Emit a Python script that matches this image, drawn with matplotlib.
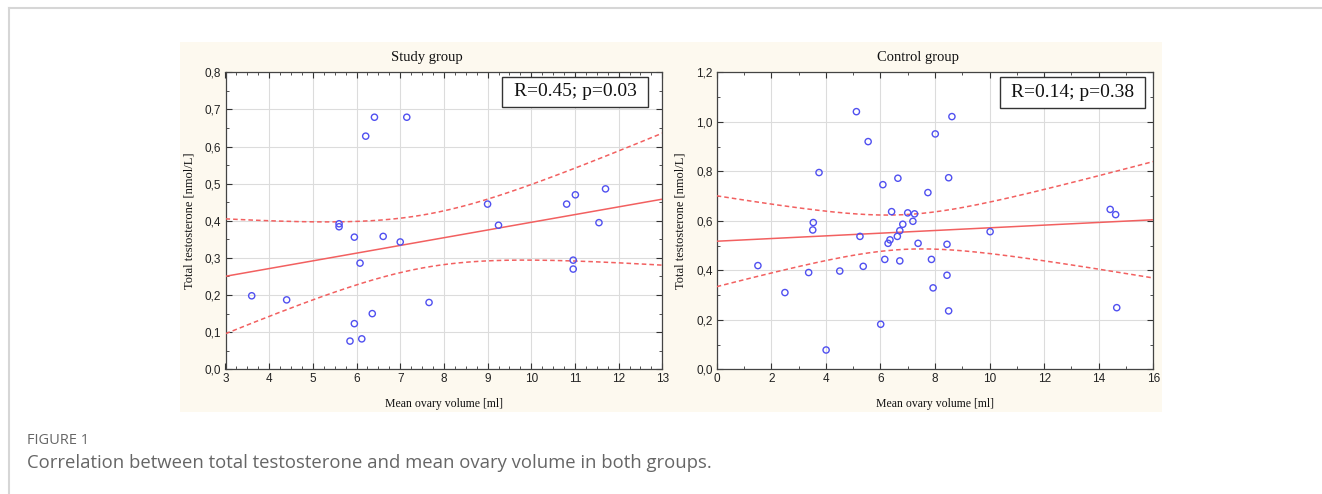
import numpy as np
import matplotlib
matplotlib.use("Agg")
import matplotlib.pyplot as plt
from matplotlib.ticker import MultipleLocator, FuncFormatter
from matplotlib.patches import Rectangle
from matplotlib.lines import Line2D

# ---- data ----
study_x = [3.60, 4.40, 5.60, 5.60, 5.95, 6.08, 6.21, 6.41, 7.15, 6.61, 7.00, 7.66,
           6.36, 5.95, 6.12, 5.85, 9.00, 9.25, 10.81, 11.01, 10.96, 10.96, 11.55, 11.70]
study_y = [0.198, 0.187, 0.392, 0.384, 0.356, 0.286, 0.628, 0.679, 0.679, 0.358, 0.343, 0.180,
           0.150, 0.123, 0.082, 0.076, 0.445, 0.388, 0.445, 0.470, 0.294, 0.270, 0.395, 0.486]

control_x = [1.51, 2.50, 3.37, 3.54, 3.52, 3.75, 4.01, 4.51, 5.12, 5.25, 5.55, 5.37, 6.01,
             6.09, 6.16, 6.28, 6.35, 6.41, 6.62, 6.64, 6.71, 6.71, 6.82, 7.00, 7.19, 7.25,
             7.38, 7.74, 7.87, 7.93, 8.01, 8.44, 8.44, 8.50, 8.50, 8.62, 10.02, 14.42, 14.62, 14.66]
control_y = [0.419, 0.310, 0.391, 0.593, 0.563, 0.795, 0.078, 0.397, 1.041, 0.537, 0.920, 0.416,
             0.182, 0.746, 0.444, 0.509, 0.523, 0.637, 0.537, 0.772, 0.560, 0.438, 0.586, 0.632,
             0.598, 0.628, 0.509, 0.714, 0.444, 0.329, 0.951, 0.505, 0.380, 0.774, 0.236, 1.021,
             0.556, 0.646, 0.625, 0.249]

titles = ["Study group", "Control group"]
stats = ["R=0.45; p=0.03", "R=0.14; p=0.38"]
xlabel = "Mean ovary volume [ml]"
ylabel = "Total testosterone [nmol/L]"
caption_head = "FIGURE 1"
caption = "Correlation between total testosterone and mean ovary volume in both groups."

W, H = 1322, 494
fig = plt.figure(figsize=(W / 100, H / 100), dpi=100)
fig.patch.set_facecolor("white")

def fx(px):
    return px / W

def fy(py):
    return 1 - py / H

# outer frame lines
fig.add_artist(Line2D([fx(9), fx(9)], [fy(8), 0], color="#d6d6d6", lw=1.5))
fig.add_artist(Line2D([fx(9), 1], [fy(8), fy(8)], color="#d6d6d6", lw=1.5))

# cream background of the image
fig.add_artist(Rectangle((fx(180), fy(412)), fx(1162 - 180), (412 - 42) / H,
                         transform=fig.transFigure, facecolor="#fdf9ef",
                         edgecolor="none", zorder=0))

serif = ["Liberation Serif", "DejaVu Serif"]
sans = ["Liberation Sans", "DejaVu Sans"]

panels = [
    dict(x=study_x, y=study_y, left=225.5, right=662.3, xlim=(3, 13), ylim=(0, 0.8),
         xmaj=1, xmin=0.25, ymaj=0.1, ymin=0.05, box=(502, 77, 648, 107), title_x=427),
    dict(x=control_x, y=control_y, left=716.7, right=1153.3, xlim=(0, 16), ylim=(0, 1.2),
         xmaj=2, xmin=1, ymaj=0.2, ymin=0.1, box=(1000, 77, 1145, 108), title_x=918),
]
top, bottom = 72.3, 369.3

for i, p in enumerate(panels):
    ax = fig.add_axes([fx(p["left"]), fy(bottom), fx(p["right"] - p["left"]), (bottom - top) / H])
    ax.set_facecolor("white")
    ax.set_xlim(*p["xlim"])
    ax.set_ylim(*p["ylim"])
    x = np.array(p["x"])
    y = np.array(p["y"])
    n = len(x)
    b, a = np.polyfit(x, y, 1)
    xs = np.linspace(p["xlim"][0], p["xlim"][1], 200)
    yhat = a + b * xs
    resid = y - (a + b * x)
    s = np.sqrt(np.sum(resid ** 2) / (n - 2))
    sxx = np.sum((x - x.mean()) ** 2)
    tval = 2.074 if n == 24 else 2.024
    se = s * np.sqrt(1 / n + (xs - x.mean()) ** 2 / sxx)
    ax.plot(xs, yhat, color="#f26060", lw=1.1, zorder=3)
    ax.plot(xs, yhat + tval * se, color="#f26060", lw=1.1, ls=(0, (3, 2)), zorder=3)
    ax.plot(xs, yhat - tval * se, color="#f26060", lw=1.1, ls=(0, (3, 2)), zorder=3)
    ax.scatter(x, y, s=20, facecolors="none", edgecolors="#5050f0", linewidths=1.0, zorder=4)

    ax.xaxis.set_major_locator(MultipleLocator(p["xmaj"]))
    ax.xaxis.set_minor_locator(MultipleLocator(p["xmin"]))
    ax.yaxis.set_major_locator(MultipleLocator(p["ymaj"]))
    ax.yaxis.set_minor_locator(MultipleLocator(p["ymin"]))
    ax.yaxis.set_major_formatter(FuncFormatter(lambda v, pos: f"{v:.1f}".replace(".", ",")))
    ax.xaxis.set_major_formatter(FuncFormatter(lambda v, pos: f"{int(round(v))}"))
    ax.grid(True, which="major", color="#dcdcdc", lw=0.8, zorder=0)
    ax.tick_params(which="both", direction="in", top=True, right=True, color="#333333")
    ax.tick_params(which="major", length=4, width=0.8, labelsize=8.5, pad=3)
    ax.tick_params(which="minor", length=2, width=0.6)
    for lab in ax.get_xticklabels() + ax.get_yticklabels():
        lab.set_family(sans)
        lab.set_color("#222222")
    for sp in ax.spines.values():
        sp.set_color("#444444")
        sp.set_linewidth(0.9)
    fig.text(fx(p["title_x"]), fy(58), titles[i], family=serif, fontsize=10.5,
             ha="center", va="center", color="#111111")
    ax.set_xlabel(xlabel, family=serif, fontsize=8.5, labelpad=9, color="#111111")
    ax.set_ylabel(ylabel, family=serif, fontsize=9.0, labelpad=7, color="#111111")

    bx0, by0, bx1, by1 = p["box"]
    fig.add_artist(Rectangle((fx(bx0), fy(by1)), fx(bx1 - bx0), (by1 - by0) / H,
                             transform=fig.transFigure, facecolor="white",
                             edgecolor="#333333", lw=1.0, zorder=5))
    fig.text(fx((bx0 + bx1) / 2), fy((by0 + by1) / 2), stats[i], family=serif,
             fontsize=14, ha="center", va="center", color="#111111", zorder=6)

fig.text(fx(27), fy(440), caption_head, family=["Open Sans", "DejaVu Sans"], fontsize=10.5,
         color="#666666", va="center", ha="left")
fig.text(fx(27), fy(463), caption, family=["Open Sans", "DejaVu Sans"], fontsize=13.3,
         color="#666666", va="center", ha="left")

fig.savefig("out.png", dpi=100)
